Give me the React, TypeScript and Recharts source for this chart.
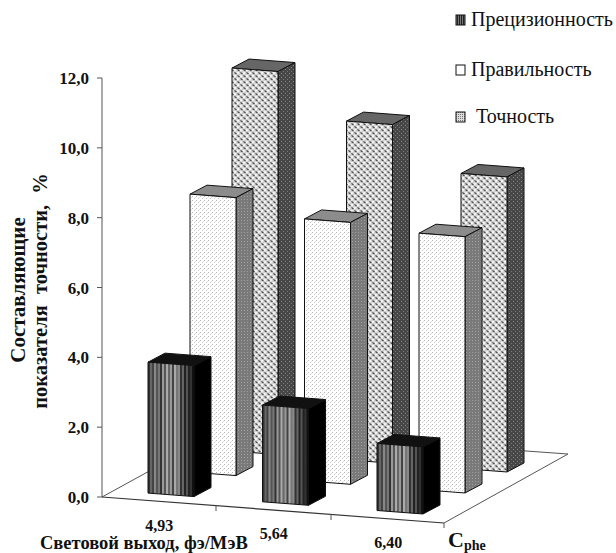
import { BarChart, Bar, XAxis, YAxis } from 'recharts';

const categories = ['4,93', '5,64', '6,40'];
const precision = [3.75, 2.77, 1.92];
const trueness = [7.96, 7.5, 7.34];
const accuracy = [10.97, 9.7, 8.45];
const yTicks = [0, 2, 4, 6, 8, 10, 12];

const tableData = categories.map((name, i) => ({
    name,
    precision: precision[i],
    trueness: trueness[i],
    accuracy: accuracy[i],
}));

// pseudo 3D projection of the floor
const FONT = '"Liberation Serif", serif';
const AXIS_X = 102;
const SKEW = 0.076;
const ROW_DX = 42;
const ROW_DY = -21;
const BAR_DX = 17;
const BAR_DY = -9;

const stripes = ['#333', '#666', '#444', '#888', '#555', '#777', '#333', '#999', '#555', '#aaa', '#666', '#999', '#444', '#aaa', '#777', '#888', '#333', '#666', '#222', '#555', '#222', '#333', '#111'];

const faces = [
    { front: 'url(#stripeFront)', side: '#000', top: '#111' },
    { front: 'url(#dots)', side: 'url(#dotsSide)', top: '#8c8c8c' },
    { front: 'url(#weave)', side: 'url(#weaveSide)', top: '#666' },
];

const Bar3D = (props: any) => {
    const { x, y, width, height, row } = props;
    const face = faces[row];
    const pt = (px: number, py: number, depth = 0) => {
        const sx = px + 12 + row * ROW_DX + depth * BAR_DX;
        const sy = py + (px - AXIS_X) * SKEW - 6.5 + row * ROW_DY + depth * BAR_DY;
        return `${sx},${sy}`;
    };
    const right = x + width;
    const base = y + height;
    return (
        <g stroke="#111" strokeWidth={1} strokeLinejoin="round">
            <polygon points={[pt(x, y), pt(right, y), pt(right, y, 1), pt(x, y, 1)].join(' ')} fill={face.top} />
            <polygon points={[pt(right, y), pt(right, y, 1), pt(right, base, 1), pt(right, base)].join(' ')} fill={face.side} />
            <polygon points={[pt(x, y), pt(right, y), pt(right, base), pt(x, base)].join(' ')} fill={face.front} />
        </g>
    );
};

const XTick = (props: any) => {
    const { x, payload } = props;
    return (
        <text x={x} y={530.5 + (x - 159) * SKEW} textAnchor="middle" fontFamily={FONT} fontWeight="bold" fontSize={16} fill="#111">
            {payload.value}
        </text>
    );
};

const legendRows = [
    { label: 'Прецизионность', fill: 'url(#stripeLegend)', y: 20, x: 471 },
    { label: 'Правильность', fill: '#fff', y: 70, x: 471 },
    { label: 'Точность', fill: 'url(#weaveLegend)', y: 117, x: 476 },
];

export default function App() {
    return (
        <div style={{ position: 'absolute', left: 0, top: 0, width: 616, height: 553, background: '#fff' }}>
            <BarChart
                width={616}
                height={553}
                data={tableData}
                margin={{ top: 78, right: 170.5, bottom: 0, left: 0 }}
                barSize={46}
                barGap={-46}
                barCategoryGap={0}
            >
                <defs>
                    <pattern id="stripeFront" patternUnits="objectBoundingBox" patternContentUnits="objectBoundingBox" width={1} height={1}>
                        {stripes.map((c, i) => (
                            <rect key={i} x={i / stripes.length} y={0} width={1 / stripes.length + 0.005} height={1} fill={c} />
                        ))}
                    </pattern>
                    <pattern id="stripeLegend" patternUnits="userSpaceOnUse" width={2} height={2}>
                        <rect width={2} height={2} fill="#222" />
                        <rect width={1} height={2} fill="#777" />
                    </pattern>
                    <pattern id="dots" patternUnits="userSpaceOnUse" width={4} height={4}>
                        <rect width={4} height={4} fill="#fff" />
                        <rect x={0} y={0} width={1} height={1} fill="#b8b8b8" />
                        <rect x={2} y={2} width={1} height={1} fill="#c8c8c8" />
                        <rect x={3} y={1} width={1} height={1} fill="#e4e4e4" />
                    </pattern>
                    <pattern id="dotsSide" patternUnits="userSpaceOnUse" width={3} height={3}>
                        <rect width={3} height={3} fill="#7a7a7a" />
                        <rect x={1} y={1} width={1} height={1} fill="#a0a0a0" />
                    </pattern>
                    <pattern id="weave" patternUnits="userSpaceOnUse" width={6} height={6}>
                        <rect width={6} height={6} fill="#d4d4d4" />
                        <path d="M0.5 0.5 L2.5 2 M3.5 3.5 L5.5 5" stroke="#444" strokeWidth={1.1} />
                        <rect x={3} y={0} width={2} height={2} fill="#f2f2f2" />
                        <rect x={0} y={3} width={2} height={2} fill="#f2f2f2" />
                    </pattern>
                    <pattern id="weaveSide" patternUnits="userSpaceOnUse" width={4} height={4}>
                        <rect width={4} height={4} fill="#474747" />
                        <rect x={1} y={1} width={1} height={1} fill="#888" />
                        <rect x={3} y={3} width={1} height={1} fill="#777" />
                    </pattern>
                    <pattern id="weaveLegend" patternUnits="userSpaceOnUse" width={2} height={2}>
                        <rect width={2} height={2} fill="#ddd" />
                        <rect width={1} height={1} fill="#777" />
                    </pattern>
                </defs>

                {/* floor, the back edge only shows past the last bar */}
                <line x1={102} y1={497} x2={226} y2={429} stroke="#555" />
                <line x1={444} y1={523} x2={568} y2={454} stroke="#555" />
                <line x1={505} y1={449.5} x2={568} y2={454} stroke="#555" />
                <line x1={102} y1={497} x2={444} y2={523} stroke="#333" strokeWidth={1.2} />
                <line x1={216} y1={506} x2={216} y2={511} stroke="#555" />
                <line x1={331} y1={514} x2={331} y2={520} stroke="#555" />
                <line x1={444} y1={523} x2={444} y2={528} stroke="#555" />

                <XAxis dataKey="name" height={56} axisLine={false} tickLine={false} interval={0} tick={<XTick />} />
                <YAxis
                    width={102}
                    domain={[0, 12]}
                    ticks={yTicks}
                    interval={0}
                    stroke="#555"
                    tickSize={5}
                    tickMargin={8}
                    tickFormatter={(v: number) => v.toFixed(1).replace('.', ',')}
                    tick={{ fontFamily: FONT, fontWeight: 'bold', fontSize: 17, fill: '#111' }}
                />

                <Bar dataKey="accuracy" name="Точность" isAnimationActive={false} shape={(p: any) => <Bar3D {...p} row={2} />} />
                <Bar dataKey="trueness" name="Правильность" isAnimationActive={false} shape={(p: any) => <Bar3D {...p} row={1} />} />
                <Bar dataKey="precision" name="Прецизионность" isAnimationActive={false} shape={(p: any) => <Bar3D {...p} row={0} />} />

                <g fontFamily={FONT} fill="#111">
                    <text transform="translate(25,290) rotate(-90)" textAnchor="middle" fontWeight="bold" fontSize={21}>
                        Составляющие
                    </text>
                    <text transform="translate(47,291) rotate(-90)" textAnchor="middle" fontWeight="bold" fontSize={20.5} wordSpacing={6}>
                        показателя точности, %
                    </text>
                    <text x={40} y={549} fontWeight="bold" fontSize={18.5}>
                        Световой выход, фэ/МэВ
                    </text>
                    <text x={448} y={547} fontWeight="bold" fontSize={22}>
                        C<tspan dy={2.5} fontSize={14}>phe</tspan>
                    </text>
                    {legendRows.map((row) => (
                        <g key={row.label}>
                            <rect x={456} y={row.y - 5} width={9} height={10} fill={row.fill} stroke="#111" strokeWidth={1} />
                            <text x={row.x} y={row.y + 6} fontSize={20}>
                                {row.label}
                            </text>
                        </g>
                    ))}
                </g>
            </BarChart>
        </div>
    );
}
